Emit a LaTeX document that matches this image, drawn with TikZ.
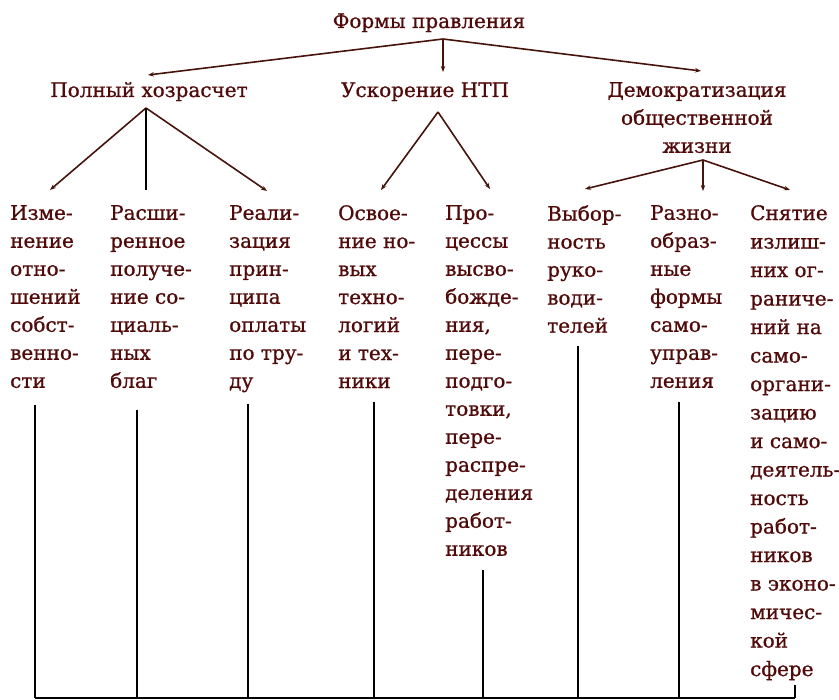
\documentclass[tikz,border=0pt]{standalone}
\usepackage{fontspec}
\setmainfont{DejaVu Serif}[FakeBold=0.9]
\usetikzlibrary{arrows.meta}
\definecolor{txt}{RGB}{80,10,10}
\definecolor{ln}{RGB}{70,20,12}
\begin{document}
\begin{tikzpicture}[x=1pt,y=-1pt,
 lbl/.style={text=txt,font=\fontsize{20}{28}\selectfont,inner sep=0pt},
 col/.style={lbl,anchor=north west,align=left},
 br/.style={draw=ln,line width=1.6pt,-{Stealth[length=6pt,width=4.5pt]}},
 stem/.style={draw=black,line width=2.6pt},
 baseln/.style={draw=black,line width=1.2pt}]
\useasboundingbox (0,0) rectangle (839,700);
% headers
\node[lbl,anchor=base] (root) at (429,28) {Формы правления};
\node[lbl,anchor=base] (h1) at (149,97) {Полный хозрасчет};
\node[lbl,anchor=base] (h2) at (425,97) {Ускорение НТП};
\node[lbl,anchor=north,align=center] (h3) at (697,82) {Демократизация\\общественной\\жизни};
% columns
\node[col] (c1) at (10,205) {Изме-\\нение\\отно-\\шений\\собст-\\венно-\\сти};
\node[col] (c2) at (110,205) {Расши-\\ренное\\получе-\\ние со-\\циаль-\\ных\\благ};
\node[col] (c3) at (229,205) {Реали-\\зация\\прин-\\ципа\\оплаты\\по тру-\\ду};
\node[col] (c4) at (338,205) {Освое-\\ние но-\\вых\\техно-\\логий\\и тех-\\ники};
\node[col] (c5) at (445,205) {Про-\\цессы\\высво-\\божде-\\ния,\\пере-\\подго-\\товки,\\пере-\\распре-\\деления\\работ-\\ников};
\node[col] (c6) at (547,205) {Выбор-\\ность\\руко-\\води-\\телей};
\node[col] (c7) at (650,205) {Разно-\\образ-\\ные\\формы\\само-\\управ-\\ления};
\node[col,font=\fontsize{20}{28.5}\selectfont] (c8) at (750,205) {Снятие\\излиш-\\них ог-\\раниче-\\ний на\\само-\\органи-\\зацию\\и само-\\деятель-\\ность\\работ-\\ников\\в эконо-\\мичес-\\кой\\сфере};
% junction coordinates
\coordinate (rj) at (443,39);
\coordinate (a1) at (148,75);
\coordinate (a2) at (443,72);
\coordinate (a3) at (701,71);
\coordinate (j1) at (146,108);
\coordinate (j2) at (438,112);
\coordinate (j3) at (703,160);
\coordinate (e1) at (50,190);
\coordinate (e2) at (146,190);
\coordinate (e3) at (267,191);
\coordinate (e4) at (381,190);
\coordinate (e5) at (490,189);
\coordinate (e6) at (585,189);
\coordinate (e7) at (703,191);
\coordinate (e8) at (790,190);
% top level
\draw[br] (rj) -- (a1);
\draw[br] (rj) -- (a2);
\draw[br] (rj) -- (a3);
% level 2
\draw[br] (j1) -- (e1);
\draw[stem] (j1) -- (e2);
\draw[br] (j1) -- (e3);
\draw[br] (j2) -- (e4);
\draw[br] (j2) -- (e5);
\draw[br] (j3) -- (e6);
\draw[br] (j3) -- (e7);
\draw[br] (j3) -- (e8);
% stems
\coordinate (t1) at (35,405);  \coordinate (b1) at (35,698);
\coordinate (t2) at (137,410); \coordinate (b2) at (137,698);
\coordinate (t3) at (248,404); \coordinate (b3) at (248,698);
\coordinate (t4) at (374,402); \coordinate (b4) at (374,698);
\coordinate (t5) at (483,570); \coordinate (b5) at (483,698);
\coordinate (t6) at (578,346); \coordinate (b6) at (578,698);
\coordinate (t7) at (679,402); \coordinate (b7) at (679,698);
\coordinate (t8) at (795,685); \coordinate (b8) at (795,698);
\foreach \i in {1,...,8} {\draw[stem] (t\i) -- (b\i);}
\draw[baseln] (b1) -- (b8);
\end{tikzpicture}
\end{document}
